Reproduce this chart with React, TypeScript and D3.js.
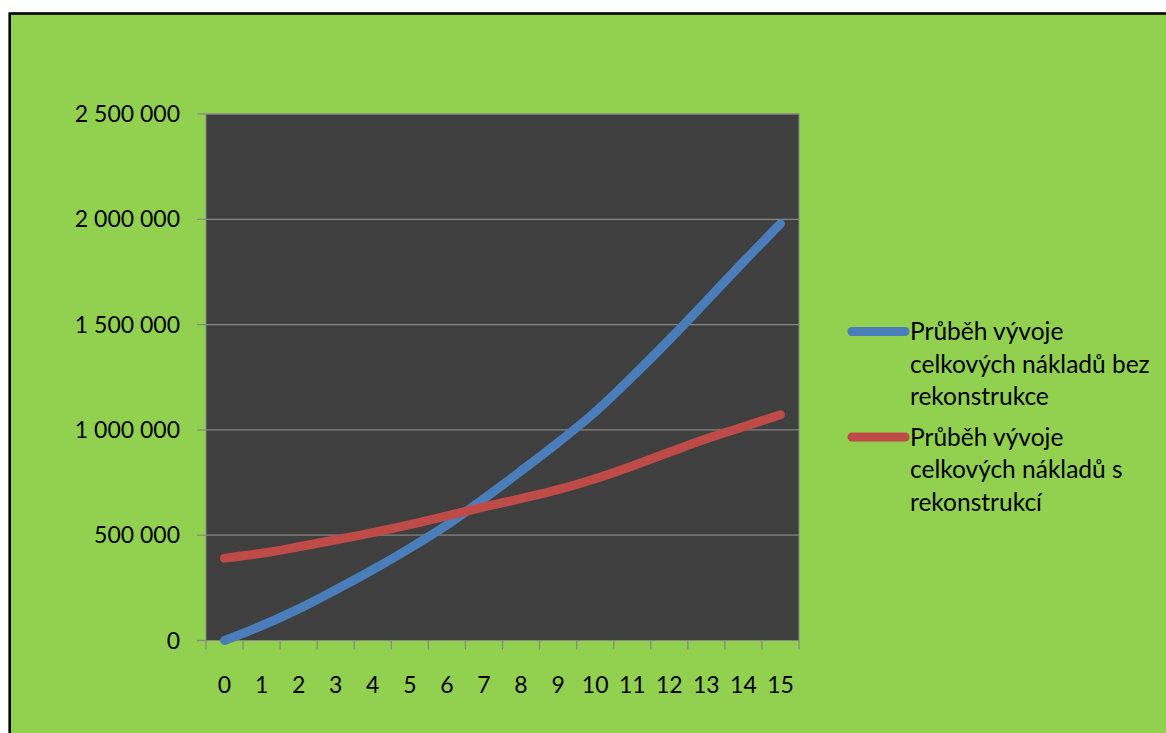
import React from "react";
import * as d3 from "d3";

// Years since start
const years: number[] = [0, 1, 2, 3, 4, 5, 6, 7, 8, 9, 10, 11, 12, 13, 14, 15];

// Total costs without reconstruction
const costsWithout: number[] = [
  0, 70000, 150000, 241000, 336000, 438000, 548000, 674000,
  805000, 940000, 1085000, 1252000, 1428000, 1612000, 1798000, 1979000,
];

// Total costs with reconstruction
const costsWith: number[] = [
  391000, 414000, 445000, 478000, 512000, 550000, 592000, 634000,
  674000, 716000, 768000, 829000, 894000, 958000, 1015000, 1072000,
];

const yTicks: number[] = [0, 500000, 1000000, 1500000, 2000000, 2500000];

const seriesNames: string[][] = [
  ["Průběh vývoje", "celkových nákladů bez", "rekonstrukce"],
  ["Průběh vývoje", "celkových nákladů s", "rekonstrukcí"],
];

const W = 1166;
const H = 733;
const plot = { left: 206, right: 799, top: 114, bottom: 640.5 };
const FONT = "Lato, 'Open Sans', sans-serif";

const fmt = (v: number) => d3.format(",")(v).replace(/,/g, " ");

export default function App() {
  const x = d3
    .scaleBand<number>()
    .domain(years)
    .range([plot.left, plot.right])
    .paddingInner(0)
    .paddingOuter(0);
  const y = d3.scaleLinear().domain([0, 2500000]).range([plot.bottom, plot.top]);
  const cx = (d: number) => (x(d) as number) + x.bandwidth() / 2;

  const line = d3
    .line<number>()
    .x((_, i) => cx(years[i]))
    .y((v) => y(v))
    .curve(d3.curveCatmullRom.alpha(0.5));

  const series = [
    { values: costsWithout, color: "#4a7ebb" },
    { values: costsWith, color: "#be4b48" },
  ];

  const boundaries = [...years.map((d) => x(d) as number), plot.right];
  const legendY = [331.5, 437];
  const lineH = 32.5;

  return (
    <div style={{ position: "fixed", left: 0, top: 0 }}>
      <svg width={W} height={H} style={{ display: "block" }}>
        <rect x={0} y={0} width={W} height={H} fill="#ffffff" />
        <rect
          x={9.7}
          y={13.5}
          width={W + 20}
          height={H + 20}
          fill="#92d050"
          stroke="#000000"
          strokeWidth={2.6}
        />
        {/* plot area */}
        <rect
          x={plot.left}
          y={plot.top}
          width={plot.right - plot.left}
          height={plot.bottom - plot.top}
          fill="#3f3f3f"
          stroke="#868686"
          strokeWidth={1}
        />
        {/* gridlines and y ticks */}
        {yTicks.map((t) => (
          <g key={t}>
            <line
              x1={plot.left}
              x2={plot.right}
              y1={y(t)}
              y2={y(t)}
              stroke="#868686"
              strokeWidth={1.2}
            />
            <line
              x1={plot.left - 9}
              x2={plot.left}
              y1={y(t)}
              y2={y(t)}
              stroke="#868686"
              strokeWidth={1.2}
            />
            <text
              x={180}
              y={y(t)}
              dy="0.35em"
              textAnchor="end"
              fontFamily={FONT}
              fontSize={23}
              fill="#000000"
            >
              {fmt(t)}
            </text>
          </g>
        ))}
        {/* x axis */}
        <line
          x1={plot.left}
          x2={plot.right}
          y1={plot.bottom}
          y2={plot.bottom}
          stroke="#868686"
          strokeWidth={1.2}
        />
        {boundaries.map((bx, i) => (
          <line
            key={i}
            x1={bx}
            x2={bx}
            y1={plot.bottom}
            y2={plot.bottom + 9}
            stroke="#868686"
            strokeWidth={1.2}
          />
        ))}
        {years.map((d) => (
          <text
            key={d}
            x={cx(d)}
            y={685}
            dy="0.35em"
            textAnchor="middle"
            fontFamily={FONT}
            fontSize={23}
            fill="#000000"
          >
            {d}
          </text>
        ))}
        {/* series */}
        {series.map((s, i) => (
          <path
            key={i}
            d={line(s.values) || ""}
            fill="none"
            stroke={s.color}
            strokeWidth={9}
            strokeLinecap="round"
            strokeLinejoin="round"
          />
        ))}
        {/* legend */}
        {series.map((s, i) => (
          <g key={i}>
            <line
              x1={852}
              x2={905}
              y1={legendY[i]}
              y2={legendY[i]}
              stroke={s.color}
              strokeWidth={9}
              strokeLinecap="round"
            />
            {seriesNames[i].map((t, j) => (
              <text
                key={j}
                x={910}
                y={legendY[i] + j * lineH}
                dy="0.35em"
                fontFamily={FONT}
                fontSize={24.5}
                fill="#000000"
              >
                {t}
              </text>
            ))}
          </g>
        ))}
      </svg>
    </div>
  );
}
